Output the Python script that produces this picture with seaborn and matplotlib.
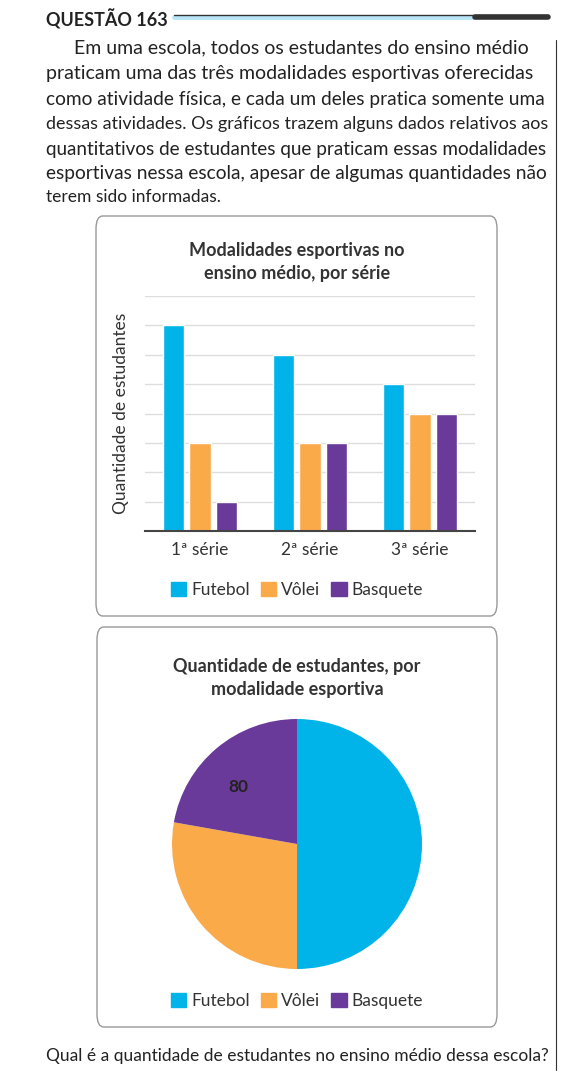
import matplotlib
matplotlib.use("Agg")
import matplotlib.pyplot as plt
import seaborn as sns
import pandas as pd
from matplotlib.patches import FancyBboxPatch
from matplotlib.lines import Line2D

series = ["1ª série", "2ª série", "3ª série"]
modalidades = ["Futebol", "Vôlei", "Basquete"]
futebol = [7, 6, 5]
volei = [3, 3, 4]
basquete = [1, 3, 4]
pie_values = [180, 100, 80]
pie_labels = ["", "", "80"]
colors = ["#00B4EA", "#FBAA4A", "#6A3A9A"]

paragraph = [
    "Em uma escola, todos os estudantes do ensino médio",
    "praticam uma das três modalidades esportivas oferecidas",
    "como atividade física, e cada um deles pratica somente uma",
    "dessas atividades. Os gráficos trazem alguns dados relativos aos",
    "quantitativos de estudantes que praticam essas modalidades",
    "esportivas nessa escola, apesar de algumas quantidades não",
    "terem sido informadas.",
]
question = "Qual é a quantidade de estudantes no ensino médio dessa escola?"

sns.set_theme(style="white")
plt.rcParams['font.family'] = ['Lato', 'DejaVu Sans']

W, H = 561, 1075
fig = plt.figure(figsize=(W/100, H/100), dpi=100)

def fx(x): return x / W
def fy(y): return 1 - y / H

# header
fig.text(fx(46), fy(19), "QUESTÃO 163", fontsize=13, fontweight="bold", va="center", color="#222")
fig.add_artist(Line2D([fx(174), fx(475)], [fy(17), fy(17)], color="#B8E6F8", lw=3.5))
fig.add_artist(Line2D([fx(174), fx(548)], [fy(15), fy(15)], color="#333", lw=1))
fig.add_artist(Line2D([fx(475), fx(548)], [fy(17), fy(17)], color="#333", lw=4))
fig.add_artist(Line2D([fx(556), fx(556)], [fy(40), fy(1070)], color="#333", lw=0.8))

ys = [48, 74, 99, 124, 149, 173, 197]
for i, (line, y) in enumerate(zip(paragraph, ys)):
    x0 = 74 if i == 0 else 46
    t = fig.text(fx(x0), fy(y), line, fontsize=12.5, va="center", color="#222")
    if i < len(paragraph) - 1:
        fig.canvas.draw()
        bb = t.get_window_extent()
        target = 548 - x0
        if bb.width > 0:
            t.set_fontsize(12.5 * min(target / bb.width, 1.12))
fig.text(fx(46), fy(1056), question, fontsize=12.5, va="center", color="#222")

# boxes
for (x0, y0, x1, y1) in [(96, 216, 497, 616), (97, 627, 497, 1027)]:
    fig.add_artist(FancyBboxPatch((fx(x0), fy(y1)), fx(x1 - x0), (y1 - y0) / H,
                                  boxstyle="round,pad=0,rounding_size=0.012",
                                  transform=fig.transFigure, fill=False,
                                  ec="#999", lw=1))

# bar chart
df = pd.DataFrame({
    "serie": series * 3,
    "mod": [m for m in modalidades for _ in series],
    "val": futebol + volei + basquete,
})
ax = fig.add_axes([fx(145), fy(531), fx(475 - 145), (531 - 296) / H])
sns.barplot(data=df, x="serie", y="val", hue="mod", palette=colors, ax=ax,
            width=0.72, gap=0.2, legend=False, saturation=1)
ax.set_ylim(0, 8)
ax.set_yticks(range(1, 9))
ax.set_yticklabels([])
ax.tick_params(length=0)
ax.grid(axis="y", color="#DDDDDD", lw=1)
ax.set_axisbelow(True)
for s in ["top", "right", "left"]:
    ax.spines[s].set_visible(False)
ax.spines["bottom"].set_color("#444")
ax.spines["bottom"].set_linewidth(1.5)
ax.set_xlabel("")
ax.set_ylabel("Quantidade de estudantes", fontsize=12.5, color="#333", labelpad=8)
ax.tick_params(axis="x", labelsize=12.5, colors="#333", pad=8)
fig.text(fx(297), fy(262), "Modalidades esportivas no\nensino médio, por série",
         ha="center", va="center", fontsize=13, fontweight="bold", color="#333", linespacing=1.4)

def legend(y):
    handles = [plt.Rectangle((0, 0), 1, 1, color=c) for c in colors]
    fig.legend(handles, modalidades, loc="center", bbox_to_anchor=(fx(297), fy(y)),
               ncol=3, frameon=False, fontsize=12.5, handlelength=0.9, handleheight=0.9,
               handletextpad=0.3, columnspacing=0.6, labelcolor="#333")
legend(590)

# pie
axp = fig.add_axes([fx(297 - 125), fy(844 + 125), fx(250), 250 / H])
axp.pie(pie_values, colors=colors, startangle=90, counterclock=False,
        labels=pie_labels, labeldistance=0.6, radius=1,
        wedgeprops=dict(linewidth=0),
        textprops=dict(fontsize=12.5, fontweight="bold", color="#222"))
axp.set_xlim(-1, 1)
axp.set_ylim(-1, 1)
axp.set_aspect("equal")
fig.text(fx(297), fy(678), "Quantidade de estudantes, por\nmodalidade esportiva",
         ha="center", va="center", fontsize=13, fontweight="bold", color="#333", linespacing=1.4)
legend(1001)

fig.savefig("out.png", dpi=100)
